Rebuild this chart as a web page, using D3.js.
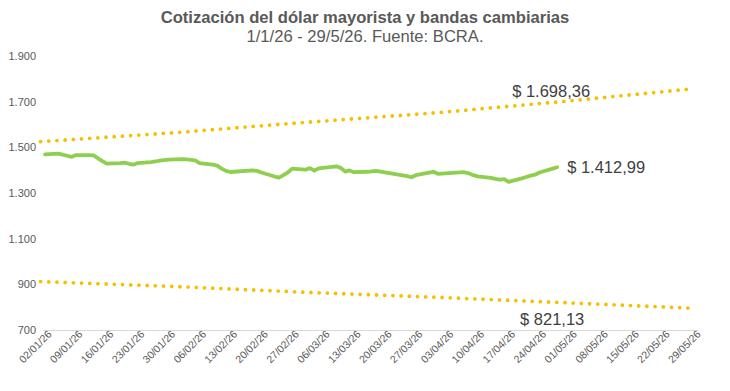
<!DOCTYPE html>
<html>
<head>
<meta charset="utf-8">
<script src="https://cdn.jsdelivr.net/npm/d3@7"></script>
<style>
  body { margin: 0; background: #fff; }
  text { font-family: "Liberation Sans", Arial, sans-serif; }
</style>
</head>
<body>
<div id="chart"></div>
<script>
// cotizacion mayorista (dias habiles)
const fechas = [
  "2026-01-02","2026-01-05","2026-01-06","2026-01-07","2026-01-08","2026-01-09",
  "2026-01-12","2026-01-13","2026-01-14","2026-01-15","2026-01-16",
  "2026-01-19","2026-01-20","2026-01-21","2026-01-22","2026-01-23",
  "2026-01-26","2026-01-27","2026-01-28","2026-01-29","2026-01-30",
  "2026-02-02","2026-02-03","2026-02-04","2026-02-05","2026-02-06",
  "2026-02-09","2026-02-10","2026-02-11","2026-02-12","2026-02-13",
  "2026-02-18","2026-02-19","2026-02-20",
  "2026-02-23","2026-02-24","2026-02-25","2026-02-26","2026-02-27",
  "2026-03-02","2026-03-03","2026-03-04","2026-03-05","2026-03-06",
  "2026-03-09","2026-03-10","2026-03-11","2026-03-12","2026-03-13",
  "2026-03-16","2026-03-17","2026-03-18","2026-03-19","2026-03-20",
  "2026-03-25","2026-03-26","2026-03-27",
  "2026-03-30","2026-03-31","2026-04-01",
  "2026-04-06","2026-04-07","2026-04-08","2026-04-09","2026-04-10",
  "2026-04-13","2026-04-14","2026-04-15","2026-04-16","2026-04-17",
  "2026-04-20","2026-04-21","2026-04-22","2026-04-23","2026-04-24",
  "2026-04-27","2026-04-28"
];
const cotizacion = [
  1469,1472,1468,1463,1458,1466,
  1466,1465,1452,1440,1429,
  1431,1433,1428,1424,1431,
  1435,1438,1442,1444,1446,
  1448,1447,1445,1443,1431,
  1424,1420,1407,1397,1392,
  1399,1397,1390,
  1372,1367,1378,1390,1407,
  1402,1409,1398,1408,1410,
  1417,1410,1394,1399,1391,
  1393,1395,1397,1394,1390,
  1374,1369,1378,
  1389,1393,1384,
  1390,1391,1386,1378,1373,
  1366,1362,1359,1361,1349,
  1364,1370,1376,1380,1390,
  1407,1412.99
];

// bandas cambiarias
const bandaFechas = ["2026-01-01","2026-02-01","2026-03-01","2026-04-01","2026-04-28","2026-05-29"];
const bandaSuperior = [1525, 1565, 1608, 1652, 1698.36, 1757];
const bandaInferior = [912, 890, 866, 843, 821.13, 795];

const yTicks = [700, 900, 1100, 1300, 1500, 1700, 1900];
const xTickLabels = [
  "02/01/26","09/01/26","16/01/26","23/01/26","30/01/26",
  "06/02/26","13/02/26","20/02/26","27/02/26",
  "06/03/26","13/03/26","20/03/26","27/03/26",
  "03/04/26","10/04/26","17/04/26","24/04/26",
  "01/05/26","08/05/26","15/05/26","22/05/26","29/05/26"
];

const width = 730, height = 391;
const gris = "#595959";
const parseISO = d3.utcParse("%Y-%m-%d");
const parseTick = d3.utcParse("%d/%m/%y");
const fmt = d3.formatLocale({decimal: ",", thousands: ".", grouping: [3], currency: ["$ ", ""]});

const svg = d3.select("#chart").append("svg")
  .attr("width", width).attr("height", height);

const x = d3.scaleUtc()
  .domain([parseTick(xTickLabels[0]), parseTick(xTickLabels[xTickLabels.length - 1])])
  .range([45, 694]);
const y = d3.scaleLinear().domain([700, 1900]).range([330, 56]);

// titulo
svg.append("text").attr("x", 365).attr("y", 23).attr("text-anchor", "middle")
  .attr("font-size", 16.6).attr("font-weight", "bold").attr("fill", gris)
  .text("Cotización del dólar mayorista y bandas cambiarias");
svg.append("text").attr("x", 365).attr("y", 42).attr("text-anchor", "middle")
  .attr("font-size", 16.6).attr("fill", gris)
  .text("1/1/26 - 29/5/26. Fuente: BCRA.");

// eje y
const yAxis = svg.append("g").attr("transform", "translate(43,0)")
  .call(d3.axisLeft(y).tickValues(yTicks).tickSize(0).tickPadding(7)
    .tickFormat(fmt.format(",d")));
yAxis.select(".domain").remove();
yAxis.selectAll("text").attr("font-size", 11).attr("fill", gris)
  .attr("font-family", "Liberation Sans, Arial, sans-serif");

// eje x
const xAxis = svg.append("g").attr("transform", "translate(0,330)")
  .call(d3.axisBottom(x).tickValues(xTickLabels.map(parseTick)).tickSize(4).tickSizeOuter(0)
    .tickFormat((d, i) => xTickLabels[i]));
xAxis.select(".domain").attr("stroke", "#d9d9d9").attr("d", "M43,0.5H698");
xAxis.selectAll(".tick line").attr("stroke", "#d9d9d9");
xAxis.selectAll("text")
  .attr("font-size", 10.5).attr("fill", gris)
  .attr("font-family", "Liberation Sans, Arial, sans-serif")
  .attr("text-anchor", "end")
  .attr("dy", null)
  .attr("transform", "translate(4,2) rotate(-45)")
  .attr("y", 4).attr("x", 0);

// bandas
const bandas = [bandaSuperior, bandaInferior];
const lineBanda = d3.line()
  .x((d, i) => x(parseISO(bandaFechas[i])))
  .y(d => y(d));
svg.append("g").selectAll("path").data(bandas).join("path")
  .attr("d", lineBanda)
  .attr("fill", "none")
  .attr("stroke", "#f5c000")
  .attr("stroke-width", 3.8)
  .attr("stroke-linecap", "round")
  .attr("stroke-dasharray", "0,8.2");

// cotizacion
const lineCot = d3.line()
  .x((d, i) => x(parseISO(fechas[i])))
  .y(d => y(d));
svg.append("path").datum(cotizacion)
  .attr("d", lineCot)
  .attr("fill", "none")
  .attr("stroke", "#8fcf4f")
  .attr("stroke-width", 3.8)
  .attr("stroke-linejoin", "round")
  .attr("stroke-linecap", "round");

// etiquetas
const money = fmt.format("$,.2f");
const ultima = parseISO(fechas[fechas.length - 1]);
const iBanda = bandaFechas.indexOf(fechas[fechas.length - 1]);
svg.append("text")
  .attr("x", x(ultima) + 10).attr("y", y(cotizacion[cotizacion.length - 1]) + 6)
  .attr("font-size", 16.5).attr("fill", "#404040")
  .text(money(cotizacion[cotizacion.length - 1]));
svg.append("text")
  .attr("x", x(ultima) - 6).attr("y", y(bandaSuperior[iBanda]) - 5)
  .attr("text-anchor", "middle")
  .attr("font-size", 16.5).attr("fill", "#404040")
  .text(money(bandaSuperior[iBanda]));
svg.append("text")
  .attr("x", x(ultima) - 5).attr("y", y(bandaInferior[iBanda]) + 23)
  .attr("text-anchor", "middle")
  .attr("font-size", 16.5).attr("fill", "#404040")
  .text(money(bandaInferior[iBanda]));
</script>
</body>
</html>
